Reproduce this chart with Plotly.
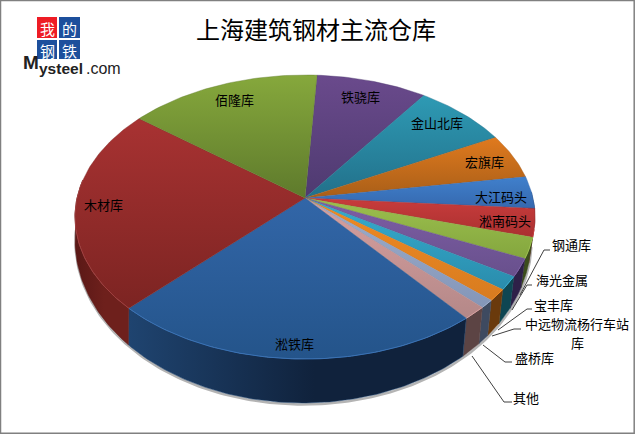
import numpy as np
import plotly.graph_objects as go

# ---- data -------------------------------------------------------------
TITLE = "上海建筑钢材主流仓库"
categories = ["铁骁库", "金山北库", "宏旗库", "大江码头", "淞南码头", "钢通库", "海光金属",
              "宝丰库", "中远物流杨行车站库", "盛桥库", "其他", "淞铁库", "木材库", "佰隆库"]
values = [7.8, 6.9, 4.9, 3.6, 3.25, 2.45, 2.15, 1.65, 1.45, 1.0, 1.65, 26.25, 23.3, 13.65]

# ---- styles -----------------------------------------------------------
top_light = ["#6a4a8c", "#2e9ab4", "#e07a1e", "#4080cc", "#c83c3c", "#9cc04e", "#7e5ea6",
             "#36aed0", "#f08a22", "#9eaecc", "#d8a0a0", "#3266a8", "#a83232", "#86a83c"]
top_dark = ["#4e3a70", "#22708a", "#a85e18", "#3568ae", "#aa3030", "#84a63e", "#68508c",
            "#2a8cac", "#d87c20", "#8496b8", "#b48888", "#24548a", "#7c2422", "#5e7a2c"]
wall_a = ["#2e2048", "#0e4652", "#6a3a0c", "#1c3a66", "#6a1f1e", "#3c4d1c", "#2e2048",
          "#0e4652", "#6a3a0c", "#3e4a60", "#5c4444", "#1f4470", "#5a1816", "#3c4d1c"]
wall_b = ["#2e2048", "#0e4652", "#6a3a0c", "#1c3a66", "#6a1f1e", "#3c4d1c", "#2e2048",
          "#0e4652", "#6a3a0c", "#3e4a60", "#5c4444", "#10223c", "#6e201c", "#3c4d1c"]
rim_col = ["#6a4a8c", "#2e9ab4", "#e07a1e", "#4080cc", "#c83c3c", "#9cc04e", "#7e5ea6",
           "#36aed0", "#f08a22", "#9eaecc", "#d8a0a0", "#3a72b5", "#a04040", "#86a83c"]

START = 3.0
APEX = (305, 198)
TOP = dict(cx=305, cy=217, rx=230, ry=142)
BOT = dict(cx=303, cy=240, rx=228, ry=163)
W, H = 635, 434
LABEL_XY = {"铁骁库": (360, 96), "金山北库": (437, 122), "宏旗库": (484, 161), "大江码头": (501, 196),
            "淞南码头": (505, 220), "钢通库": (571, 244), "海光金属": (562, 279), "宝丰库": (553, 304),
            "盛桥库": (534, 357), "其他": (526, 397),
            "淞铁库": (294, 343), "木材库": (103, 204), "佰隆库": (234, 99)}
WRAPPED = {"中远物流杨行车站库": [("中远物流杨行车站", 577, 323), ("库", 577, 342)]}
LEADERS = [[(550, 250), (544, 250), (520, 295)],
           [(532, 285), (527, 285), (512, 310)],
           [(532, 309), (527, 309), (498, 330)],
           [(521, 329), (514, 329), (492, 336)],
           [(512, 362), (505, 362), (483, 345)],
           [(512, 402), (504, 402), (472, 356)]]
CJK = "Noto Sans CJK SC"


def rim(e, a):
    t = np.radians(a)
    return e["cx"] + e["rx"] * np.sin(t), e["cy"] - e["ry"] * np.cos(t)


def arc(a0, a1):
    return np.linspace(a0, a1, max(2, int(abs(a1 - a0)) + 2))


fig = go.Figure()
edges = START + np.concatenate([[0], np.cumsum(values)]) * 360 / sum(values)

# soft shadow below the wall
sx, sy = rim(BOT, arc(92, 285))
fig.add_trace(go.Scatter(x=sx + 0.5, y=sy + 1.5, mode="lines", line=dict(color="#b4b4b4", width=2.5),
                         hoverinfo="skip", showlegend=False))

# walls
for i in range(len(values)):
    a0, a1 = max(edges[i], 80), min(edges[i + 1], 285)
    if a1 <= a0:
        continue
    a = arc(a0, a1)
    x0, y0 = rim(TOP, a)
    x1, y1 = rim(BOT, a[::-1])
    fig.add_trace(go.Scatter(x=np.r_[x0, x1, x0[0]], y=np.r_[y0, y1, y0[0]], mode="lines", fill="toself",
                             line=dict(width=0.5, color=wall_a[i]), hoverinfo="skip", showlegend=False,
                             fillgradient=dict(type="horizontal",
                                               colorscale=[[0, wall_a[i]], [0.55, wall_b[i]], [1, wall_b[i]]])))

# top faces (light at the upper edge, dark at the lower one)
for i in range(len(values)):
    a = arc(edges[i], edges[i + 1])
    x0, y0 = rim(TOP, a)
    fig.add_trace(go.Scatter(x=np.r_[APEX[0], x0, APEX[0]], y=np.r_[APEX[1], y0, APEX[1]], mode="lines",
                             fill="toself", line=dict(width=0.4, color=top_dark[i]), hoverinfo="skip",
                             showlegend=False,
                             fillgradient=dict(type="vertical", colorscale=[[0, top_dark[i]], [1, top_light[i]]])))

# lit front rim
for i in range(len(values)):
    a0, a1 = max(edges[i], 95), min(edges[i + 1], 285)
    if a1 <= a0:
        continue
    x0, y0 = rim(TOP, arc(a0, a1))
    fig.add_trace(go.Scatter(x=x0, y=y0, mode="lines", line=dict(width=1, color=rim_col[i]),
                             hoverinfo="skip", showlegend=False))

# leader lines
for pts in LEADERS:
    fig.add_trace(go.Scatter(x=[p[0] for p in pts], y=[p[1] for p in pts], mode="lines",
                             line=dict(color="#404040", width=1), hoverinfo="skip", showlegend=False))

ann = []
for c in categories:
    for text, x, y in WRAPPED.get(c, [(c, *LABEL_XY.get(c, (0, 0)))]):
        ann.append(dict(x=x, y=y, text=text, showarrow=False, xanchor="center", yanchor="middle", borderpad=0, height=18,
                        font=dict(family=CJK, size=13, color="#000000")))
ann.append(dict(x=316, y=28, text=TITLE, showarrow=False, xanchor="center", yanchor="middle",
                font=dict(family=CJK, size=24, color="#000000")))

# logo
shapes = [dict(type="rect", x0=0.5, y0=0.5, x1=W - 0.8, y1=H - 0.8, line=dict(color="#808080", width=1.5), layer="above")]
for (x0, y0, x1, y1, col, ch) in [(37, 17, 57, 38, "#ee1c25", "我"), (59, 17, 80, 38, "#1d4f9c", "的"),
                                  (37, 40, 57, 59, "#1d4f9c", "钢"), (59, 40, 80, 59, "#1d4f9c", "铁")]:
    shapes.append(dict(type="rect", x0=x0, y0=y0, x1=x1, y1=y1, fillcolor=col, line=dict(width=0), layer="below"))
    ann.append(dict(x=(x0 + x1) / 2, y=(y0 + y1) / 2, text=ch, showarrow=False, xanchor="center", yanchor="middle",
                    font=dict(family=CJK, size=15, color="#ffffff"), borderpad=0, height=20))
LOGO = "Liberation Sans"
ann.append(dict(x=22, y=62, text="<b>M</b>", showarrow=False, xanchor="left", yanchor="middle", borderpad=0,
                font=dict(family=LOGO, size=19, color="#222222")))
ann.append(dict(x=38, y=68, text="<b>ysteel</b>", showarrow=False, xanchor="left", yanchor="middle", borderpad=0,
                font=dict(family=LOGO, size=15.5, color="#222222")))
ann.append(dict(x=85, y=68, text=".com", showarrow=False, xanchor="left", yanchor="middle", borderpad=0,
                font=dict(family=LOGO, size=16, color="#222222")))

fig.update_layout(width=W, height=H, margin=dict(l=0, r=0, t=0, b=0), paper_bgcolor="white", plot_bgcolor="white",
                  xaxis=dict(range=[0, W], visible=False, fixedrange=True),
                  yaxis=dict(range=[H, 0], visible=False, fixedrange=True),
                  showlegend=False, annotations=ann, shapes=shapes)
fig.write_html("out.html", config=dict(displayModeBar=False),
               post_script="document.body.style.margin='0';")
